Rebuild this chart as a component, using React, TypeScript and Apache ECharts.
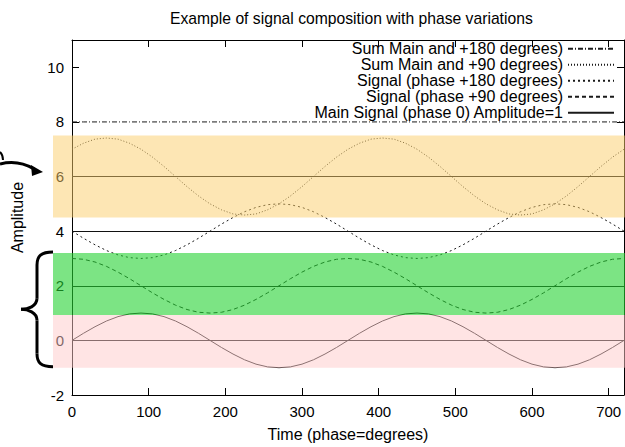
import React, { useEffect, useRef } from "react";
import * as echarts from "echarts";

const titleText = "Example of signal composition with phase variations";
const xName = "Time (phase=degrees)";
const yName = "Amplitude";

const degrees = [
  0, 15, 30, 45, 60, 75, 90, 105, 120, 135, 150, 165, 180, 195, 210, 225, 240, 255, 270, 285, 300, 315, 330, 345,
  360, 375, 390, 405, 420, 435, 450, 465, 480, 495, 510, 525, 540, 555, 570, 585, 600, 615, 630, 645, 660, 675, 690, 705,
  720,
];

const mainSignal = [
  0, 0.26, 0.5, 0.71, 0.87, 0.97, 1, 0.97, 0.87, 0.71, 0.5, 0.26, 0, -0.26, -0.5, -0.71, -0.87, -0.97, -1, -0.97, -0.87, -0.71, -0.5, -0.26,
  0, 0.26, 0.5, 0.71, 0.87, 0.97, 1, 0.97, 0.87, 0.71, 0.5, 0.26, 0, -0.26, -0.5, -0.71, -0.87, -0.97, -1, -0.97, -0.87, -0.71, -0.5, -0.26,
  0,
];

const phase90 = [
  3, 2.97, 2.87, 2.71, 2.5, 2.26, 2, 1.74, 1.5, 1.29, 1.13, 1.03, 1, 1.03, 1.13, 1.29, 1.5, 1.74, 2, 2.26, 2.5, 2.71, 2.87, 2.97,
  3, 2.97, 2.87, 2.71, 2.5, 2.26, 2, 1.74, 1.5, 1.29, 1.13, 1.03, 1, 1.03, 1.13, 1.29, 1.5, 1.74, 2, 2.26, 2.5, 2.71, 2.87, 2.97,
  3,
];

const phase180 = [
  4, 3.74, 3.5, 3.29, 3.13, 3.03, 3, 3.03, 3.13, 3.29, 3.5, 3.74, 4, 4.26, 4.5, 4.71, 4.87, 4.97, 5, 4.97, 4.87, 4.71, 4.5, 4.26,
  4, 3.74, 3.5, 3.29, 3.13, 3.03, 3, 3.03, 3.13, 3.29, 3.5, 3.74, 4, 4.26, 4.5, 4.71, 4.87, 4.97, 5, 4.97, 4.87, 4.71, 4.5, 4.26,
  4,
];

const sum90 = [
  7, 7.22, 7.37, 7.41, 7.37, 7.22, 7, 6.71, 6.37, 6, 5.63, 5.29, 5, 4.78, 4.63, 4.59, 4.63, 4.78, 5, 5.29, 5.63, 6, 6.37, 6.71,
  7, 7.22, 7.37, 7.41, 7.37, 7.22, 7, 6.71, 6.37, 6, 5.63, 5.29, 5, 4.78, 4.63, 4.59, 4.63, 4.78, 5, 5.29, 5.63, 6, 6.37, 6.71,
  7,
];

const sum180 = [
  8, 8, 8, 8, 8, 8, 8, 8, 8, 8, 8, 8, 8, 8, 8, 8, 8, 8, 8, 8, 8, 8, 8, 8,
  8, 8, 8, 8, 8, 8, 8, 8, 8, 8, 8, 8, 8, 8, 8, 8, 8, 8, 8, 8, 8, 8, 8, 8,
  8,
];

const baselines = [0, 2, 4, 6];

const seriesNames = [
  "Main Signal (phase 0) Amplitude=1",
  "Signal (phase +90 degrees)",
  "Signal (phase +180 degrees)",
  "Sum Main and +90 degrees)",
  "Sum Main and +180 degrees)",
];

const bandLow = [-1, 0.93, 4.5];
const bandHigh = [0.93, 3.2, 7.5];
const bandColors = ["rgba(255,201,201,0.5)", "rgba(37,210,50,0.6)", "rgba(251,205,105,0.5)"];

const FONT = "Liberation Sans, Arial, sans-serif";

export default function App() {
  const ref = useRef<HTMLDivElement>(null);

  useEffect(() => {
    if (!ref.current) return;
    const chart = echarts.init(ref.current, undefined, { renderer: "svg" });

    const toPairs = (vals: number[]) => degrees.map((d, i) => [d, vals[i]]);
    const lineColor = "#1a1a1a";

    const axisCommon = {
      type: "value" as const,
      axisLine: { show: true, onZero: false, lineStyle: { color: "#000", width: 1 } },
      axisTick: { show: true, inside: true, length: 7, lineStyle: { color: "#000", width: 1 } },
      splitLine: { show: false },
    };

    chart.setOption({
      animation: false,
      textStyle: { fontFamily: FONT },
      title: {
        text: titleText,
        left: 165,
        top: 5,
        textStyle: { fontFamily: FONT, fontSize: 15.7, fontWeight: "normal", color: "#000" },
      },
      grid: { left: 72, top: 40, width: 552, height: 360, containLabel: false },
      legend: {
        data: [seriesNames[4], seriesNames[3], seriesNames[2], seriesNames[1], seriesNames[0]],
        orient: "vertical",
        align: "right",
        right: 10,
        top: 40.75,
        padding: 0,
        itemWidth: 46,
        itemHeight: 12,
        itemGap: 0,
        itemStyle: { opacity: 0 },
        textStyle: { fontFamily: FONT, fontSize: 16, lineHeight: 15.5, color: "#000" },
      },
      xAxis: [
        {
          ...axisCommon,
          position: "bottom",
          min: 0,
          max: 720,
          interval: 100,
          axisLabel: { color: "#000", fontSize: 15, margin: 9, showMaxLabel: false, fontFamily: FONT },
          name: xName,
          nameLocation: "middle",
          nameGap: 31,
          nameTextStyle: { color: "#000", fontSize: 16, fontFamily: FONT },
        },
        {
          ...axisCommon,
          position: "top",
          min: 0,
          max: 720,
          interval: 100,
          axisLabel: { show: false },
        },
      ],
      yAxis: [
        {
          ...axisCommon,
          position: "left",
          min: -2,
          max: 11,
          interval: 2,
          axisLabel: { color: "#000", fontSize: 15, margin: 8, showMaxLabel: false, fontFamily: FONT },
          name: yName,
          nameLocation: "middle",
          nameRotate: 90,
          nameGap: 47,
          nameTextStyle: { color: "#000", fontSize: 16, fontFamily: FONT },
        },
        {
          ...axisCommon,
          position: "right",
          min: -2,
          max: 11,
          interval: 2,
          axisLabel: { show: false },
        },
      ],
      series: [
        {
          name: seriesNames[0],
          type: "line",
          symbol: "none",
          data: toPairs(mainSignal),
          lineStyle: { color: lineColor, width: 1, type: "solid" },
          itemStyle: { color: lineColor },
          markLine: {
            silent: true,
            symbol: ["none", "none"],
            label: { show: false },
            lineStyle: { color: "#111", width: 1, type: "solid" },
            data: baselines.map((v) => ({ yAxis: v })),
          },
        },
        {
          name: seriesNames[1],
          type: "line",
          symbol: "none",
          data: toPairs(phase90),
          lineStyle: { color: lineColor, width: 1, type: [4, 3] },
          itemStyle: { color: lineColor },
        },
        {
          name: seriesNames[2],
          type: "line",
          symbol: "none",
          data: toPairs(phase180),
          lineStyle: { color: lineColor, width: 1, type: [2, 3] },
          itemStyle: { color: lineColor },
        },
        {
          name: seriesNames[3],
          type: "line",
          symbol: "none",
          data: toPairs(sum90),
          lineStyle: { color: lineColor, width: 1, type: [1, 2] },
          itemStyle: { color: lineColor },
        },
        {
          name: seriesNames[4],
          type: "line",
          symbol: "none",
          data: toPairs(sum180),
          lineStyle: { color: lineColor, width: 1, type: [5, 2, 1, 2] },
          itemStyle: { color: lineColor },
        },
      ],
    });

    const py = (v: number) => chart.convertToPixel({ yAxisIndex: 0 }, v) as number;
    const bandRects = bandLow.map((lo, i) => {
      const y1 = py(bandHigh[i]);
      const y2 = py(lo);
      return {
        type: "rect",
        silent: true,
        z: 100,
        shape: { x: 53, y: y1, width: 580, height: y2 - y1 },
        style: { fill: bandColors[i] },
      };
    });

    const bTop = py(bandHigh[1]) - 1;
    const bBot = py(bandLow[0]) - 1;
    const bMid = (bTop + bBot) / 2;
    const armX = 53;
    const spineX = 37;
    const tipX = 21;
    const stroke = { stroke: "#000", lineWidth: 3, fill: null as any };
    const brace = [
      { type: "bezierCurve", shape: { x1: armX, y1: bTop, cpx1: 41, cpy1: bTop, cpx2: spineX, cpy2: bTop + 4, x2: spineX, y2: bTop + 13 }, style: stroke },
      { type: "line", shape: { x1: spineX, y1: bTop + 13, x2: spineX, y2: bMid - 11 }, style: stroke },
      { type: "bezierCurve", shape: { x1: spineX, y1: bMid - 11, cpx1: spineX, cpy1: bMid - 3, cpx2: 28, cpy2: bMid, x2: tipX, y2: bMid }, style: stroke },
      { type: "bezierCurve", shape: { x1: tipX, y1: bMid, cpx1: 28, cpy1: bMid, cpx2: spineX, cpy2: bMid + 3, x2: spineX, y2: bMid + 11 }, style: stroke },
      { type: "line", shape: { x1: spineX, y1: bMid + 11, x2: spineX, y2: bBot - 13 }, style: stroke },
      { type: "bezierCurve", shape: { x1: spineX, y1: bBot - 13, cpx1: spineX, cpy1: bBot - 4, cpx2: 41, cpy2: bBot, x2: armX, y2: bBot }, style: stroke },
    ];
    const arrow = [
      { type: "bezierCurve", shape: { x1: 0, y1: 164, cpx1: 12, cpy1: 161, cpx2: 24, cpy2: 163, x2: 34, y2: 169 }, style: stroke },
      { type: "polygon", shape: { points: [[31, 165], [43, 172], [32, 176]] }, style: { fill: "#000" } },
      { type: "bezierCurve", shape: { x1: 0, y1: 152, cpx1: 2, cpy1: 154, cpx2: 3, cpy2: 157, x2: 3, y2: 160 }, style: { stroke: "#000", lineWidth: 2, fill: null as any } },
    ];

    chart.setOption({ graphic: [...bandRects, ...brace, ...arrow] });

    return () => chart.dispose();
  }, []);

  return <div ref={ref} style={{ position: "absolute", left: 0, top: 0, width: 625, height: 447 }} />;
}
